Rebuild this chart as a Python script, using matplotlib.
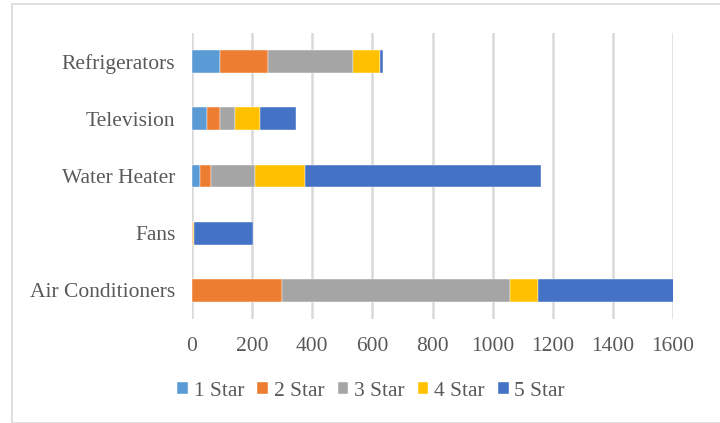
import matplotlib
matplotlib.use("Agg")
import matplotlib.pyplot as plt
from matplotlib.patches import Rectangle
import numpy as np

categories = ["Air Conditioners", "Fans", "Water Heater", "Television", "Refrigerators"]
series_names = ["1 Star", "2 Star", "3 Star", "4 Star", "5 Star"]
star1 = [0, 1, 28, 50, 93]
star2 = [299, 1, 34, 44, 161]
star3 = [758, 1, 149, 50, 283]
star4 = [94, 2, 166, 83, 90]
star5 = [451, 197, 783, 120, 7]
colors = ["#5b9bd5", "#ed7d31", "#a5a5a5", "#ffc000", "#4472c4"]
xticks = [0, 200, 400, 600, 800, 1000, 1200, 1400, 1600]

plt.rcParams['font.family'] = ['Liberation Serif', 'DejaVu Serif']

W, H = 720, 423
fig = plt.figure(figsize=(W/100, H/100), dpi=100)
ax = fig.add_axes([192/W, (H-319)/H, (673-192)/W, (319-33)/H])

y = np.arange(len(categories))
left = np.zeros(len(categories))
for name, vals, c in zip(series_names, [star1, star2, star3, star4, star5], colors):
    vals = np.array(vals, dtype=float)
    ax.barh(y, vals, left=left, height=0.4, color=c, label=name, zorder=3,
            edgecolor='white', linewidth=0.3)
    left += vals

ax.set_xlim(0, 1600)
ax.set_ylim(-0.5, len(categories) - 0.5)
ax.set_xticks(xticks)
ax.set_yticks(y)
ax.set_yticklabels(categories)
ax.grid(axis='x', color='#d9d9d9', linewidth=1.8, zorder=0)
ax.grid(axis='y', visible=False)
for s in ax.spines.values():
    s.set_visible(False)
ax.tick_params(axis='both', length=0, labelsize=15.5, colors='#595959')
ax.tick_params(axis='x', pad=13)
ax.tick_params(axis='y', pad=12)

leg = ax.legend(loc='center', bbox_to_anchor=(371 / W, (H - 391) / H),
                bbox_transform=fig.transFigure, ncol=5, frameon=False,
                fontsize=15.5, handlelength=0.5, handleheight=0.5,
                handletextpad=0.25, columnspacing=0.62)
for t in leg.get_texts():
    t.set_color('#595959')

# chart border
fig.patches.append(Rectangle((12/W, 0), 1, (H-4)/H, transform=fig.transFigure,
                             fill=False, edgecolor='#d9d9d9', linewidth=1.2))

fig.savefig("out.png", dpi=100)
